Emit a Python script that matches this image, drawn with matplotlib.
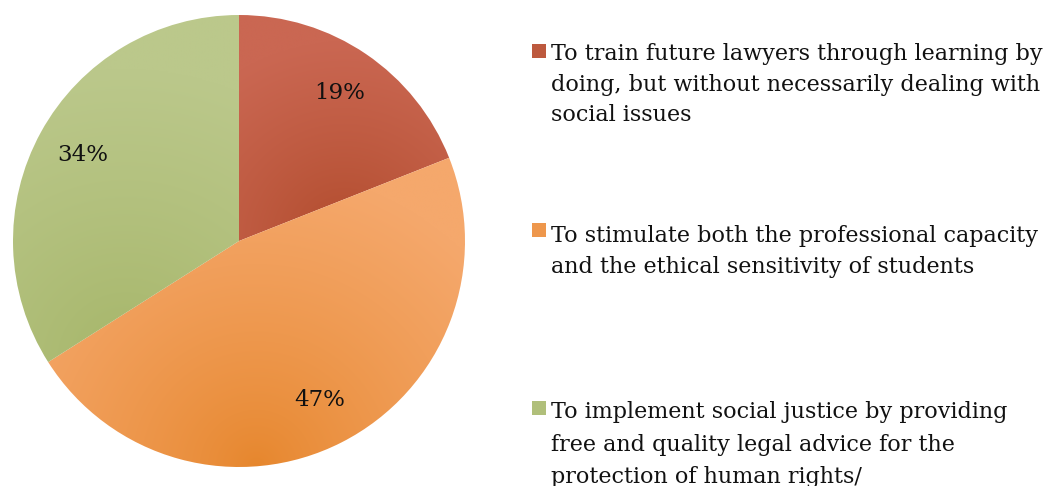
import numpy as np
import matplotlib
matplotlib.use("Agg")
import matplotlib.pyplot as plt
from matplotlib.colors import to_rgb
from matplotlib.patches import Rectangle

# Survey responses: purpose of the legal clinic
categories = [
    "To train future lawyers through learning by\ndoing, but without necessarily dealing with\nsocial issues",
    "To stimulate both the professional capacity\nand the ethical sensitivity of students",
    "To implement social justice by providing\nfree and quality legal advice for the\nprotection of human rights/",
]
shares = [19, 47, 34]

# light (upper) and deep (lower) tones for each slice
light_colors = ["#CA6752", "#F5A86C", "#BBC88B"]
deep_colors = ["#B04A2A", "#E6862C", "#A5B568"]

W, H = 1048, 486
fig = plt.figure(figsize=(W / 100, H / 100), dpi=100)
fig.patch.set_facecolor("white")

cx, cy, R = 239, 241, 226
ax = fig.add_axes([(cx - R) / W, (H - cy - R) / H, 2 * R / W, 2 * R / H])

wedges, _, pct_texts = ax.pie(
    shares, startangle=90, counterclock=False,
    colors=light_colors, autopct="%.0f%%", pctdistance=0.79,
    wedgeprops=dict(linewidth=0),
    textprops=dict(family="DejaVu Serif", fontsize=16.5, color="#111111"),
)
ax.set_xlim(-1, 1)
ax.set_ylim(-1, 1)
ax.set_aspect("equal")

# shade every slice with a radial gradient anchored at the bottom of the slice
for w, c0, c1 in zip(wedges, light_colors, deep_colors):
    th = np.radians(np.linspace(w.theta1, w.theta2, 400))
    xs = np.concatenate([[0], np.cos(th)])
    ys = np.concatenate([[0], np.sin(th)])
    x0, x1, y0, y1 = xs.min(), xs.max(), ys.min(), ys.max()
    fx, fy = (x0 + x1) / 2, y0
    gx, gy = np.meshgrid(np.linspace(x0, x1, 300), np.linspace(y0, y1, 300))
    d = np.hypot(gx - fx, gy - fy)
    dmax = max(np.hypot(x0 - fx, y1 - fy), np.hypot(x1 - fx, y1 - fy))
    t = np.clip(d / dmax * 1.25, 0, 1)[..., None] ** 0.8
    img = np.array(to_rgb(c1)) * (1 - t) + np.array(to_rgb(c0)) * t
    im = ax.imshow(img, extent=(x0, x1, y0, y1), origin="lower",
                   interpolation="bilinear", zorder=1.5)
    im.set_clip_path(w)
    w.set_facecolor("none")

for t in pct_texts:
    t.set_zorder(3)

# legend: swatch plus wrapped label
label_tops = [43, 225, 401]
swatch_mid = [51, 230, 408]
line_gaps = [1.5, 1.5, 1.62]
for lbl, top, sm, gap, c0, c1 in zip(categories, label_tops, swatch_mid,
                                     line_gaps, light_colors, deep_colors):
    sw = 14
    mix = 0.5 * (np.array(to_rgb(c0)) + np.array(to_rgb(c1)))
    fig.patches.append(Rectangle((532 / W, (H - sm - sw / 2) / H), sw / W, sw / H,
                                 transform=fig.transFigure, facecolor=mix,
                                 edgecolor="none"))
    fig.text(551 / W, (H - top) / H, lbl, ha="left", va="top",
             family="DejaVu Serif", fontsize=16, color="#111111",
             linespacing=gap)

fig.savefig("out.png", dpi=100, facecolor="white")
